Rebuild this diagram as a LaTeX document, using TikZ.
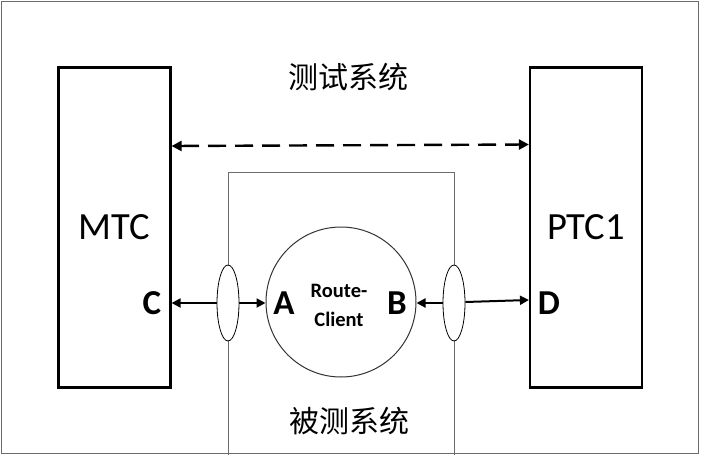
\documentclass[tikz,border=0pt]{standalone}
\usepackage{fontspec}
\setmainfont{Carlito}
\newfontfamily\cjk{Noto Sans CJK SC}
\usetikzlibrary{shapes.geometric,arrows.meta,calc}
\tikzset{
  sysbox/.style={draw=black,line width=2.2pt,rectangle,minimum width=112pt,minimum height=320pt,inner sep=0pt,font=\fontsize{38.5}{40}\selectfont},
  port/.style={inner sep=0pt,font=\bfseries\fontsize{35}{38}\selectfont},
  lens/.style={draw=black,line width=0.8pt,fill=white,ellipse,minimum width=22pt,minimum height=76pt,inner sep=0pt},
  frame/.style={draw=gray!85!black,line width=1pt},
  arr/.style={line width=2pt,-{Triangle[length=9pt,width=9pt]}},
  dasharr/.style={line width=2.4pt,dash pattern=on 18pt off 9pt,{Triangle[length=10pt,width=10pt]}-{Triangle[length=10pt,width=10pt]}},
  cjklabel/.style={inner sep=0pt,font=\cjk\fontsize{30}{32}\selectfont}
}
\begin{document}
\begin{tikzpicture}[x=1pt,y=-1pt]
\useasboundingbox (0,0) rectangle (701,455);
% outer frame
\draw[frame] (1.5,1.5) rectangle (698,453);
% system under test outline
\draw[frame] (228,455) -- (228,172) -- (454,172) -- (454,455);
% boxes
\node[sysbox] (mtc) at (114.5,227.5) {MTC};
\node[sysbox] (ptc) at (586,227.5) {PTC1};
% circle
\node[draw=black!80,line width=1pt,circle,minimum size=150pt,inner sep=0pt,fill=white] (rc) at (341,302) {};
\node[inner sep=0pt,align=center,font=\bfseries\fontsize{20.5}{29}\selectfont] (rctext) at (339,305) {Route-\\Client};
% lenses
\node[lens] (le) at (228,303) {};
\node[lens] (re) at (454,303) {};
% labels
\node[cjklabel] (t1) at (348,77) {测试系统};
\node[cjklabel] (t2) at (349,421) {被测系统};
\node[port] (pc) at (152,303) {C};
\node[port] (pa) at (284,303) {A};
\node[port] (pb) at (397,303) {B};
\node[port] (pd) at (549,303) {D};
% connectors
\coordinate (dy) at (0,146);
\draw[dasharr] (mtc.east |- dy) -- ($(ptc.west |- dy)+(0,-1.5)$);
\draw[arr] (le.west) -- (le.west -| mtc.east);
\draw[arr] (le.east) -- (rc.west |- le.east);
\draw[arr] (re.west) -- (rc.east |- re.west);
\draw[arr] ($(re.east)+(0,-1)$) -- ($(re.east -| ptc.west)+(0,-3)$);
\end{tikzpicture}
\end{document}
